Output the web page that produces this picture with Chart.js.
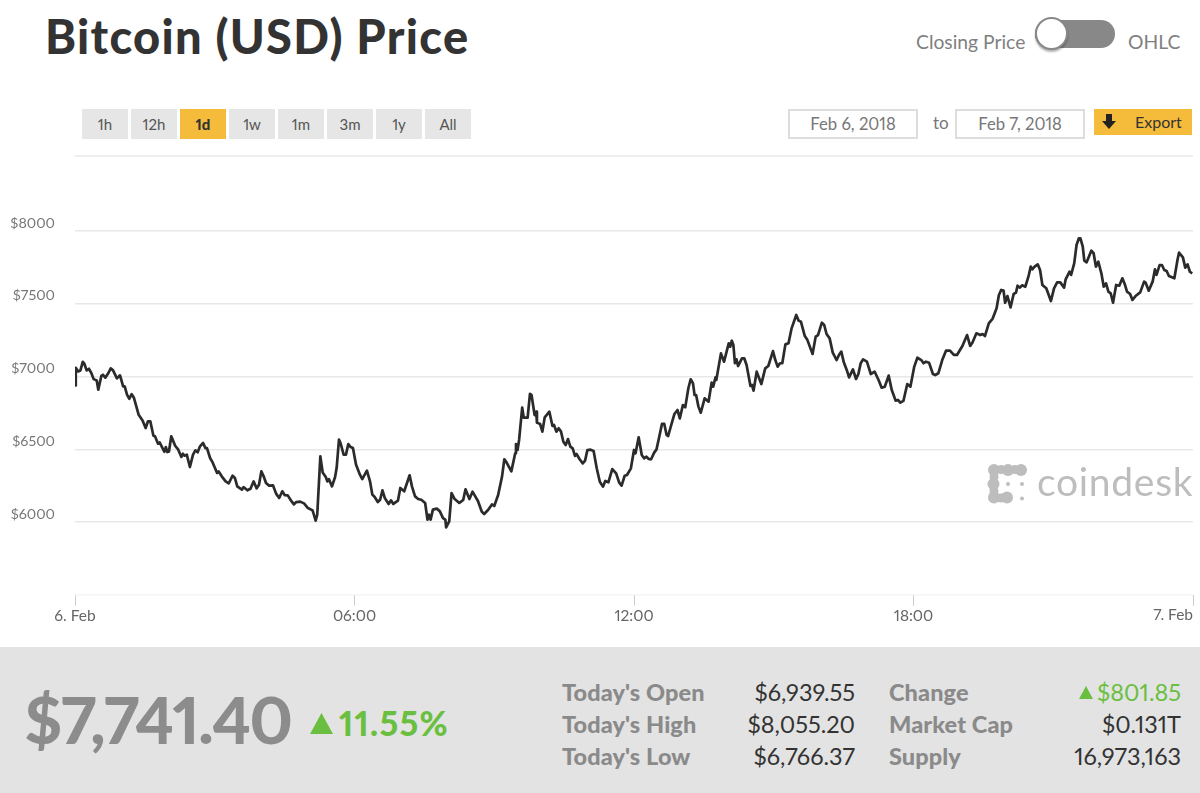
<!DOCTYPE html>
<html>
<head>
<meta charset="utf-8">
<title>Bitcoin (USD) Price</title>
<script src="https://cdn.jsdelivr.net/npm/chart.js@4/dist/chart.umd.min.js"></script>
<style>
    html, body { margin: 0; padding: 0; background: #fff; }
    body { position: relative; width: 1200px; height: 793px; overflow: hidden; font-family: Lato, sans-serif; font-variant-numeric: proportional-nums; }
    body > * { position: absolute; }
    h1 { margin: 0; left: 45px; top: 8px; font-size: 47px; line-height: 56px; font-weight: 900; color: #333; letter-spacing: 1.3px; white-space: nowrap; }
    .toggle-label { top: 31px; font-size: 19.3px; line-height: 22px; color: #808080; }
    #track { left: 1035px; top: 20px; width: 80px; height: 28px; border-radius: 14px; background: #888; }
    #knob { left: 1035px; top: 17px; width: 29px; height: 29px; border-radius: 50%; background: #fff; border: 2px solid #888; box-shadow: 0 2px 2px rgba(0,0,0,.3); }
    .range { top: 109px; width: 46px; height: 30px; line-height: 30px; text-align: center; background: #e6e6e6; color: #555; font-size: 15px; }
    .range.active { background: #f5bc3c; color: #333; font-weight: 900; }
    .date { top: 109px; width: 126px; height: 26px; line-height: 26px; text-align: center; border: 2px solid #ddd; color: #777; font-size: 16.7px; }
    #to { left: 933px; top: 111px; color: #777; font-size: 17px; line-height: 24px; }
    #export { left: 1094px; top: 109px; width: 98px; height: 26px; background: #f5bc3c; }
    #exportText { left: 1135px; top: 110px; font-size: 16px; line-height: 24px; color: #333; }
    #separator { left: 75px; top: 155px; width: 1118px; height: 2px; background: #eee; }
    #chart { left: 0; top: 150px; }
    #wordmark { left: 1037px; top: 456px; font-size: 39px; line-height: 50px; color: #bdbdbd; letter-spacing: 0.7px; }
    #panel { left: 0; top: 647px; width: 1200px; height: 146px; background: #e3e3e3; }
    #price { left: 24px; top: 679px; font-size: 65px; line-height: 80px; font-weight: 900; color: #8c8c8c; letter-spacing: -1.5px; }
    #percent { left: 339px; top: 701px; font-size: 34px; line-height: 44px; font-weight: 900; color: #6abf40; letter-spacing: 1.3px; }
    .stat { font-size: 23.5px; line-height: 28px; white-space: nowrap; }
    .stat.name { font-weight: 900; color: #8a8a8a; letter-spacing: 0.1px; }
    .stat.value { color: #333; text-align: right; }
</style>
</head>
<body>
<h1>Bitcoin (USD) Price</h1>
<div class="toggle-label" style="left:916px">Closing Price</div>
<div id="track"></div>
<div id="knob"></div>
<div class="toggle-label" style="left:1128px">OHLC</div>

<div class="range" style="left:82px">1h</div>
<div class="range" style="left:131px">12h</div>
<div class="range active" style="left:180px">1d</div>
<div class="range" style="left:229px">1w</div>
<div class="range" style="left:278px">1m</div>
<div class="range" style="left:327px">3m</div>
<div class="range" style="left:376px">1y</div>
<div class="range" style="left:425px">All</div>

<div class="date" style="left:788px">Feb 6, 2018</div>
<div id="to">to</div>
<div class="date" style="left:955px">Feb 7, 2018</div>
<div id="export"></div>
<svg style="left:1101px;top:114px" width="16" height="16" viewBox="0 0 16 16"><path d="M5 0h6v7h4l-7 8-7-8h4z" fill="#222"/></svg>
<div id="exportText">Export</div>
<div id="separator"></div>

<canvas id="chart" width="1200" height="490"></canvas>

<svg style="left:987px;top:463px" width="42" height="42" viewBox="0 0 42 42" fill="#bdbdbd">
    <circle cx="7" cy="7" r="6"/><circle cx="14" cy="6.5" r="4.5"/><circle cx="21" cy="7" r="6"/><circle cx="28" cy="6.5" r="4.5"/><circle cx="34" cy="7" r="6"/>
    <circle cx="7" cy="14" r="4.5"/><circle cx="6.5" cy="21" r="6"/><circle cx="7" cy="28" r="4.5"/><circle cx="7" cy="34.5" r="6"/>
    <circle cx="14" cy="35" r="4.5"/><circle cx="20" cy="34.5" r="6"/>
    <circle cx="21" cy="21" r="2"/><circle cx="35" cy="21" r="2"/><circle cx="35" cy="35.5" r="2"/>
</svg>
<div id="wordmark">coindesk</div>

<div id="panel"></div>
<div id="price">$7,741.40</div>
<svg style="left:310px;top:713px" width="23" height="21"><path d="M11.5 0L23 21H0z" fill="#6abf40"/></svg>
<div id="percent">11.55%</div>

<div class="stat name" style="left:562px;top:678px">Today's Open</div>
<div class="stat name" style="left:562px;top:710px">Today's High</div>
<div class="stat name" style="left:562px;top:742px">Today's Low</div>
<div class="stat value" style="right:345px;top:678px">$6,939.55</div>
<div class="stat value" style="right:345px;top:710px">$8,055.20</div>
<div class="stat value" style="right:345px;top:742px">$6,766.37</div>
<div class="stat name" style="left:889px;top:678px">Change</div>
<div class="stat name" style="left:889px;top:710px">Market Cap</div>
<div class="stat name" style="left:889px;top:742px">Supply</div>
<svg style="left:1079px;top:686px" width="14" height="13"><path d="M7 0L14 13H0z" fill="#6abf40"/></svg>
<div class="stat value" style="right:19px;top:678px;color:#6abf40">$801.85</div>
<div class="stat value" style="right:19px;top:710px">$0.131T</div>
<div class="stat value" style="right:19px;top:742px">16,973,163</div>

<script>
// minutes since 6 Feb 00:00
const minutes = [
    0, 1, 4, 7, 10, 12, 15, 18, 21, 24, 28, 30, 34, 36, 39, 43, 46, 49, 54, 58, 62, 64, 67, 70, 73, 76, 82, 87, 91, 94, 97,
    101, 103, 107, 109, 115, 117, 119, 121, 124, 129, 133, 137, 139, 141, 144, 148, 152, 155, 158, 161, 165, 168, 170, 174, 177,
    183, 185, 189, 194, 198, 203, 206, 209, 215, 217, 222, 226, 230, 234, 237, 240, 243, 246, 250, 255, 259, 263, 267, 270, 274, 278,
    282, 285, 290, 295, 300, 306, 310, 312, 316, 319, 323, 325, 327, 331, 335, 337, 340, 342, 346, 349, 352, 355, 358, 362, 367, 370, 376,
    380, 383, 386, 390, 393, 396, 399, 404, 407, 410, 416, 419, 424, 431, 434, 438, 442, 446, 451, 454, 456, 458, 461, 466, 470, 474, 477, 478, 482, 485, 489, 495,
    500, 503, 508, 512, 515, 519, 524, 527, 532, 537, 540, 545, 550, 553, 556, 562, 567, 568, 570, 572, 576, 578, 583, 586, 588, 592, 594, 595, 599,
    602, 605, 611, 615, 617, 620, 623, 626, 629, 632, 635, 638, 641, 644, 646, 650, 654, 657, 660, 664, 668, 672, 676, 680, 683, 687, 692, 697,
    701, 704, 708, 711, 716, 720, 722, 726, 730, 733, 736, 739, 742, 746, 749, 753, 756, 759, 762, 764, 768, 772, 776, 779, 783, 786, 790, 793, 796, 798,
    800, 803, 806, 811, 816, 820, 822, 825, 826, 832, 836, 842, 844, 846, 848, 850, 852, 854, 859, 862, 865, 870, 872, 874, 878, 884, 889, 893, 899,
    902, 905, 908, 911, 915, 919, 923, 929, 932, 935, 940, 943, 950, 954, 957, 962, 965, 968, 972, 976, 981, 984, 987, 990, 994, 997,
    1002, 1006, 1009, 1012, 1015, 1020, 1025, 1030, 1035, 1039, 1043, 1048, 1052, 1057, 1060, 1063, 1067, 1072, 1076, 1081, 1085, 1090, 1093, 1096,
    1100, 1105, 1108, 1112, 1117, 1122, 1127, 1132, 1136, 1143, 1149, 1153, 1156, 1161, 1166, 1169, 1172, 1177, 1182, 1187, 1190, 1193, 1196, 1198,
    1201, 1205, 1209, 1212, 1214, 1217, 1220, 1224, 1228, 1231, 1233, 1236, 1240, 1243, 1246, 1251, 1257, 1261, 1265, 1269, 1274, 1276, 1281, 1283, 1287, 1290, 1293, 1295, 1298,
    1300, 1303, 1309, 1312, 1315, 1318, 1322, 1325, 1328, 1331, 1334, 1337, 1341, 1345, 1349, 1352, 1355, 1359, 1362, 1366, 1372, 1377, 1379, 1383, 1388, 1391, 1393, 1397,
    1400, 1403, 1406, 1409, 1416, 1420, 1422, 1427, 1430, 1433, 1436, 1439
];

const prices = [
    6939, 7060, 7035, 7042, 7101, 7088, 7042, 7053, 7024, 6982, 6973, 6909, 7005, 7012, 6992, 7024, 7056, 7042, 6987, 7008, 6932, 6932, 6875, 6847, 6879, 6852, 6737, 6698, 6646, 6692, 6692,
    6593, 6589, 6538, 6547, 6483, 6515, 6481, 6485, 6589, 6524, 6497, 6447, 6469, 6456, 6463, 6378, 6463, 6492, 6479, 6520, 6543, 6508, 6508, 6440, 6412,
    6337, 6348, 6314, 6279, 6266, 6318, 6302, 6245, 6222, 6240, 6218, 6229, 6279, 6231, 6256, 6348, 6314, 6268, 6250, 6252, 6195, 6165, 6211, 6185, 6183, 6149,
    6121, 6137, 6140, 6128, 6096, 6080, 6009, 6050, 6451, 6341, 6309, 6279, 6295, 6245, 6309, 6371, 6566, 6543, 6463, 6463, 6536, 6515, 6508, 6394, 6325, 6295, 6353,
    6279, 6188, 6172, 6137, 6153, 6218, 6165, 6124, 6149, 6124, 6147, 6234, 6211, 6321, 6245, 6176, 6158, 6153, 6131, 6016, 6050, 6016, 6085, 6092, 6073, 6027, 6016, 5963, 6005, 6199, 6158, 6131,
    6151, 6225, 6158, 6208, 6181, 6144, 6071, 6055, 6082, 6121, 6110, 6186, 6312, 6431, 6408, 6348, 6472, 6536, 6495, 6564, 6786, 6717, 6717, 6880, 6873, 6735, 6758, 6683, 6674,
    6621, 6719, 6758, 6660, 6667, 6621, 6644, 6621, 6552, 6529, 6570, 6518, 6506, 6454, 6467, 6431, 6403, 6422, 6495, 6497, 6488, 6369, 6277, 6243, 6282, 6273, 6364, 6334,
    6270, 6250, 6318, 6323, 6369, 6495, 6472, 6582, 6460, 6438, 6449, 6433, 6431, 6477, 6499, 6598, 6674, 6674, 6598, 6591, 6667, 6742, 6770, 6712, 6804, 6788, 6919, 6981, 6953, 6873,
    6873, 6793, 6751, 6850, 6827, 6958, 6930, 6994, 6976, 7159, 7102, 7228, 7205, 7246, 7217, 7091, 7118, 7072, 7125, 7125, 7079, 6935, 6942, 6903, 7033, 6948, 7056, 7072, 7175,
    7113, 7068, 7091, 7091, 7221, 7228, 7331, 7423, 7384, 7377, 7278, 7255, 7155, 7274, 7285, 7370, 7354, 7292, 7262, 7164, 7113, 7148, 7171, 7102, 7045, 6994,
    7049, 6983, 7017, 7091, 7118, 7102, 7017, 7033, 6976, 6923, 6930, 7006, 6907, 6834, 6839, 6820, 6832, 6948, 6930, 7068, 7129, 7113, 7091, 7102,
    7095, 7017, 7010, 7022, 7113, 7178, 7178, 7148, 7148, 7210, 7285, 7210, 7233, 7297, 7285, 7292, 7278, 7365, 7398, 7469, 7560, 7595, 7590, 7507,
    7553, 7475, 7567, 7576, 7624, 7611, 7627, 7617, 7686, 7755, 7737, 7755, 7771, 7732, 7629, 7606, 7519, 7606, 7647, 7647, 7611, 7668, 7720, 7698, 7778, 7904, 7950, 7950, 7892,
    7796, 7785, 7865, 7847, 7755, 7789, 7709, 7617, 7640, 7583, 7572, 7507, 7629, 7624, 7675, 7636, 7583, 7567, 7526, 7553, 7578, 7652, 7645, 7590, 7652, 7737, 7698, 7766,
    7766, 7732, 7725, 7691, 7675, 7801, 7851, 7819, 7748, 7771, 7720, 7709
];

const xTickLabels = ['6. Feb', '06:00', '12:00', '18:00', '7. Feb'];
const xStep = 360;
const yMin = 5500;
const yMax = 8500;
const yStep = 500;

const xTickFont = { family: 'Lato, sans-serif', size: 15.5 };
const yTickFont = { family: 'Lato, sans-serif', size: 14.3 };

// the last date sits flush with the plot's right edge, so it is drawn right-aligned
const lastTickLabel = {
    id: 'lastTickLabel',
    afterDraw(chart) {
        const scale = chart.scales.x;
        const ctx = chart.ctx;
        ctx.save();
        ctx.font = `${xTickFont.size}px ${xTickFont.family}`;
        ctx.fillStyle = '#666';
        ctx.textAlign = 'right';
        ctx.textBaseline = 'middle';
        ctx.fillText(xTickLabels[xTickLabels.length - 1], scale.getPixelForValue(1440), 465);
        ctx.restore();
    },
};

new Chart(document.getElementById('chart'), {
    type: 'line',
    data: {
        datasets: [{
            data: minutes.map((minute, index) => ({ x: minute, y: prices[index] })),
            borderColor: '#2b2b2b',
            borderWidth: 2.7,
            borderJoinStyle: 'round',
            pointRadius: 0,
            tension: 0,
        }],
    },
    options: {
        responsive: false,
        animation: false,
        layout: { padding: { top: 8.25, right: 7, left: 0, bottom: 0 } },
        plugins: { legend: { display: false }, tooltip: { enabled: false } },
        scales: {
            x: {
                type: 'linear',
                min: 0,
                max: 1440,
                afterFit(scale) {
                    scale.height = 45.25;
                    scale.paddingLeft = 0;
                    scale.paddingRight = 0;
                },
                border: { display: false },
                grid: { drawOnChartArea: false, tickColor: '#ccc', tickLength: 11 },
                ticks: {
                    stepSize: xStep,
                    maxRotation: 0,
                    autoSkip: false,
                    padding: 1,
                    color: '#666',
                    font: xTickFont,
                    callback(value) {
                        const index = value / xStep;
                        return index < xTickLabels.length - 1 ? xTickLabels[index] : '';
                    },
                },
            },
            y: {
                min: yMin,
                max: yMax,
                afterFit(scale) {
                    // keep the plot height fixed, the labels may overhang
                    scale.width = 75;
                    scale.paddingTop = 0;
                    scale.paddingBottom = 0;
                },
                border: { display: false },
                grid: {
                    drawTicks: false,
                    lineWidth: 1.5,
                    color(context) {
                        if (context.tick.value === yMax) return 'transparent';
                        return context.tick.value === yMin ? '#f6f6f6' : '#e8e8e8';
                    },
                },
                ticks: {
                    stepSize: yStep,
                    padding: 20,
                    labelOffset: -8,
                    color: '#777',
                    font: yTickFont,
                    callback(value) {
                        return value === yMin || value === yMax ? '' : `$${value}`;
                    },
                },
            },
        },
    },
    plugins: [lastTickLabel],
});
</script>
</body>
</html>
